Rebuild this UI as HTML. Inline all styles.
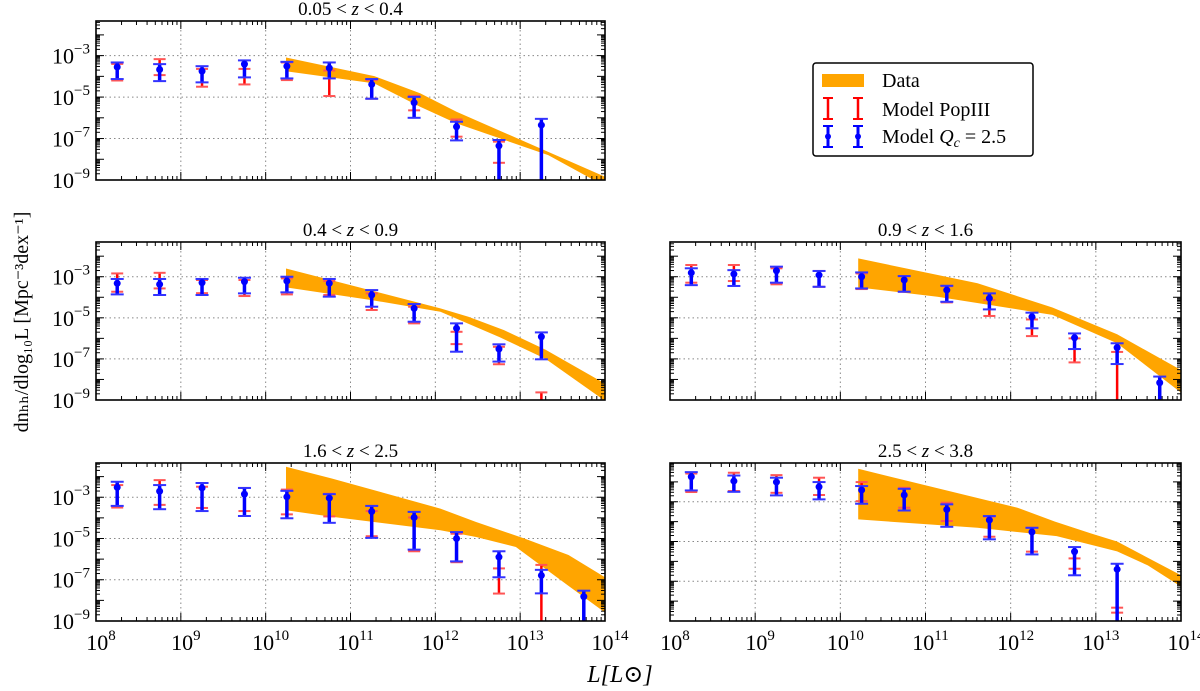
<!DOCTYPE html>
<html><head><meta charset="utf-8"><style>
body{margin:0;background:#fff;}
svg{display:block;font-family:"Liberation Serif","DejaVu Serif",serif;}
</style></head><body>
<svg id="chart" width="1200" height="691" viewBox="0 0 1200 691">
<defs id="defs"></defs>
<g id="root"></g>
</svg>
<script>
// ---- data (log10 values) ----
const binLogL = [8.25, 8.75, 9.25, 9.75, 10.25, 10.75, 11.25, 11.75, 12.25, 12.75, 13.25, 13.75];
const panelTitles = ["0.05 < z < 0.4", "0.4 < z < 0.9", "0.9 < z < 1.6", "1.6 < z < 2.5", "2.5 < z < 3.8"];
const xTickExps = [8, 9, 10, 11, 12, 13, 14];
const yTickExps = [-3, -5, -7, -9];

// panel A: 0.05<z<0.4
const aBandUpperX = [10.24, 11.28, 11.82, 12.25, 14.0];
const aBandUpper = [-3.09, -3.99, -4.82, -5.71, -8.84];
const aBandLowerX = [10.24, 11.28, 11.82, 12.25, 13.33, 14.0];
const aBandLower = [-3.75, -4.34, -5.47, -6.27, -7.8, -9.3];
const aBlueMid = [-3.55, -3.67, -3.75, -3.41, -3.51, -3.6, -4.39, -5.27, -6.43, -7.35, -6.35, null];
const aBlueLo = [-4.13, -4.23, -4.29, -4.05, -4.1, -4.1, -5.08, -6.0, -7.09, -10, -10, null];
const aBlueHi = [-3.33, -3.41, -3.51, -3.23, -3.3, -3.33, -4.13, -4.99, -6.19, -7.07, -6.05, null];
const aRedLo = [-4.2, -3.94, -4.5, -4.39, -4.18, -4.95, -5.08, -5.64, -6.91, -8.17, null, null];
const aRedHi = [-3.4, -3.17, -3.64, -3.64, -3.33, -3.72, -4.18, -4.94, -6.08, -7.15, null, null];

// panel B: 0.4<z<0.9
const bBandUpperX = [10.24, 12.06, 12.39, 12.81, 13.3, 14.0];
const bBandUpper = [-2.6, -4.54, -4.95, -5.6, -6.55, -8.2];
const bBandLowerX = [10.24, 11.25, 12.06, 12.76, 13.3, 13.95, 14.0];
const bBandLower = [-3.52, -4.14, -4.7, -5.95, -7.0, -8.9, -9.1];
const bBlueMid = [-3.32, -3.37, -3.29, -3.24, -3.21, -3.32, -3.89, -4.54, -5.51, -6.52, -5.92, null];
const bBlueLo = [-3.86, -3.89, -3.89, -3.81, -3.76, -3.97, -4.46, -5.19, -6.65, -7.13, -7.02, null];
const bBlueHi = [-3.11, -3.11, -3.11, -3.05, -3.0, -3.11, -3.65, -4.33, -5.27, -6.29, -5.71, null];
const bRedLo = [-3.73, -3.57, -3.8, -3.94, -3.86, -3.89, -4.62, -5.27, -6.28, -7.26, -10, null];
const bRedHi = [-2.84, -2.81, -3.16, -3.16, -3.08, -3.21, -3.81, -4.46, -5.68, -6.41, -8.63, null];

// panel C: 0.9<z<1.6
const cBandUpperX = [10.21, 11.61, 12.49, 13.25, 14.0];
const cBandUpper = [-2.11, -3.32, -4.5, -5.8, -7.54];
const cBandLowerX = [10.21, 11.14, 12.49, 13.25, 14.0];
const cBandLower = [-3.52, -3.97, -4.86, -6.24, -8.64];
const cBlueMid = [-2.81, -2.87, -2.71, -2.92, -3.0, -3.16, -3.65, -4.05, -4.95, -5.97, -6.45, -8.16];
const cBlueLo = [-3.41, -3.45, -3.29, -3.49, -3.57, -3.73, -4.22, -4.59, -5.51, -6.52, -7.25, -10];
const cBlueHi = [-2.59, -2.68, -2.51, -2.72, -2.79, -2.97, -3.44, -3.81, -4.75, -5.76, -6.24, -7.86];
const cRedLo = [-3.29, -3.21, -3.37, -3.49, -3.6, -3.73, -4.25, -4.91, -5.89, -7.17, -10, null];
const cRedHi = [-2.43, -2.43, -2.59, -2.72, -2.84, -2.97, -3.46, -4.14, -5.08, -6.0, -6.66, null];

// panel D: 1.6<z<2.5
const dBandUpperX = [10.24, 10.78, 12.06, 12.48, 13.05, 13.57, 14.0];
const dBandUpper = [-1.52, -2.09, -3.55, -4.2, -5.0, -5.8, -6.88];
const dBandLowerX = [10.24, 10.78, 12.06, 12.48, 12.95, 13.57, 14.0];
const dBandLower = [-3.63, -3.95, -4.6, -4.93, -5.41, -7.3, -8.59];
const dBlueMid = [-2.52, -2.71, -2.55, -2.85, -2.98, -3.04, -3.69, -3.98, -5.0, -5.9, -6.79, -7.82];
const dBlueLo = [-3.42, -3.58, -3.67, -3.91, -4.02, -4.24, -4.97, -5.54, -6.11, -6.88, -7.66, -10];
const dBlueHi = [-2.25, -2.41, -2.31, -2.55, -2.69, -2.85, -3.42, -3.71, -4.69, -5.62, -6.52, -7.53];
const dRedLo = [-3.5, -3.37, -3.52, -3.67, -3.83, -3.93, -4.89, -5.62, -6.15, -7.67, -10, null];
const dRedHi = [-2.41, -2.17, -2.49, -2.55, -2.63, -2.83, -3.67, -3.98, -4.77, -6.45, -6.28, null];

// panel E: 2.5<z<3.8
const eBandUpperX = [10.21, 12.08, 12.52, 12.95, 13.25, 14.0];
const eBandUpper = [-1.34, -3.3, -4.0, -4.6, -5.0, -6.7];
const eBandLowerX = [10.21, 11.61, 12.54, 13.25, 13.61, 14.0];
const eBandLower = [-3.89, -4.31, -4.73, -5.5, -6.2, -7.27];
const eBlueMid = [-1.74, -1.96, -2.01, -2.25, -2.41, -2.66, -3.39, -3.92, -4.52, -5.51, -6.4, null];
const eBlueLo = [-2.43, -2.5, -2.68, -2.88, -3.1, -3.44, -4.26, -4.89, -5.65, -6.7, -10, null];
const eBlueHi = [-1.51, -1.68, -1.79, -2.01, -2.21, -2.35, -3.13, -3.72, -4.31, -5.28, -6.12, null];
const eRedLo = [-2.51, -2.46, -2.55, -2.66, -2.97, -3.3, -3.97, -4.76, -5.51, -6.37, -8.58, null];
const eRedHi = [-1.58, -1.54, -1.66, -1.79, -2.01, -2.3, -3.05, -3.75, -4.31, -5.85, -8.33, null];

const NS = "http://www.w3.org/2000/svg";
const root = document.getElementById("root");
const defs = document.getElementById("defs");
function mk(tag, attrs, parent) {
  const el = document.createElementNS(NS, tag);
  for (const k in attrs) el.setAttribute(k, attrs[k]);
  (parent || root).appendChild(el);
  return el;
}

const panels = [
  {id:"a", x0:96, x1:605, y0:21, y1:180, ymax:-1.33, ylab:true, xlab:false,
   bux:aBandUpperX, bu:aBandUpper, blx:aBandLowerX, bl:aBandLower, bm:aBlueMid, blo:aBlueLo, bhi:aBlueHi, rlo:aRedLo, rhi:aRedHi},
  {id:"b", x0:96, x1:605, y0:242, y1:400, ymax:-1.31, ylab:true, xlab:false,
   bux:bBandUpperX, bu:bBandUpper, blx:bBandLowerX, bl:bBandLower, bm:bBlueMid, blo:bBlueLo, bhi:bBlueHi, rlo:bRedLo, rhi:bRedHi},
  {id:"c", x0:670, x1:1181, y0:242, y1:400, ymax:-1.31, ylab:false, xlab:false,
   bux:cBandUpperX, bu:cBandUpper, blx:cBandLowerX, bl:cBandLower, bm:cBlueMid, blo:cBlueLo, bhi:cBlueHi, rlo:cRedLo, rhi:cRedHi},
  {id:"d", x0:96, x1:605, y0:463, y1:621, ymax:-1.34, ylab:true, xlab:true,
   bux:dBandUpperX, bu:dBandUpper, blx:dBandLowerX, bl:dBandLower, bm:dBlueMid, blo:dBlueLo, bhi:dBlueHi, rlo:dRedLo, rhi:dRedHi},
  {id:"e", x0:670, x1:1181, y0:463, y1:621, ymax:-1.05, ylab:false, xlab:true,
   bux:eBandUpperX, bu:eBandUpper, blx:eBandLowerX, bl:eBandLower, bm:eBlueMid, blo:eBlueLo, bhi:eBlueHi, rlo:eRedLo, rhi:eRedHi}
];
const titleIdx = {a:0, b:1, c:2, d:3, e:4};

panels.forEach(p => {
  const xs = v => p.x0 + (v - 8) / 6 * (p.x1 - p.x0);
  const ys = v => p.y1 - (v - (-9)) / (p.ymax + 9) * (p.y1 - p.y0);
  const g = mk("g", {});
  
  
  const cp = mk("clipPath", {id:"clip-" + p.id}, defs);
  mk("rect", {x:p.x0, y:p.y0, width:p.x1 - p.x0, height:p.y1 - p.y0}, cp);

  const t = panelTitles[titleIdx[p.id]];
  const parts = t.split("z");
  const tt = mk("text", {x:(p.x0 + p.x1) / 2, y:p.y0 - 6, "text-anchor":"middle", "font-size":"19"}, g);
  
  
  tt.appendChild(document.createTextNode(parts[0]));
  const zi = mk("tspan", {"font-style":"italic"}, tt); zi.textContent = "z";
  tt.appendChild(document.createTextNode(parts[1]));

  const grid = mk("g", {stroke:"#888", "stroke-width":"1", "stroke-dasharray":"1.5,3"}, g);
  
  
  xTickExps.forEach(e => { if (e > 8 && e < 14) mk("line", {x1:xs(e), x2:xs(e), y1:p.y0, y2:p.y1}, grid); });
  yTickExps.forEach(e => { if (e > -9) mk("line", {x1:p.x0, x2:p.x1, y1:ys(e), y2:ys(e)}, grid); });

  const plot = mk("g", {"clip-path":"url(#clip-" + p.id + ")"}, g);
  let d = "";
  p.bux.forEach((v, i) => { d += (i ? "L" : "M") + xs(v).toFixed(1) + "," + ys(p.bu[i]).toFixed(1); });
  for (let i = p.blx.length - 1; i >= 0; i--) d += "L" + xs(p.blx[i]).toFixed(1) + "," + ys(p.bl[i]).toFixed(1);
  const band = mk("path", {d: d + "Z", fill:"#ffa500", stroke:"none"}, plot);
  
  

  binLogL.forEach((L, i) => {
    if (p.rlo[i] == null || p.rhi[i] == null) return;
    const x = xs(L), ylo = ys(p.rlo[i]), yhi = ys(p.rhi[i]);
    const eg = mk("g", {stroke:"#ff0000", "stroke-width":"2.5"}, plot);
    
    
    mk("line", {x1:x, x2:x, y1:ylo, y2:yhi}, eg);
    mk("line", {x1:x - 6, x2:x + 6, y1:ylo, y2:ylo, "stroke-width":"2", stroke:"#ff5555"}, eg);
    mk("line", {x1:x - 6, x2:x + 6, y1:yhi, y2:yhi, "stroke-width":"2", stroke:"#ff5555"}, eg);
  });
  binLogL.forEach((L, i) => {
    if (p.bm[i] == null) return;
    const x = xs(L), ylo = ys(p.blo[i]), yhi = ys(p.bhi[i]), ym = ys(p.bm[i]);
    const eg = mk("g", {stroke:"#0000ff", "stroke-width":"3.5"}, plot);
    
    
    mk("line", {x1:x, x2:x, y1:ylo, y2:yhi}, eg);
    mk("line", {x1:x - 6.5, x2:x + 6.5, y1:ylo, y2:ylo, "stroke-width":"2", stroke:"#3333ff"}, eg);
    mk("line", {x1:x - 6.5, x2:x + 6.5, y1:yhi, y2:yhi, "stroke-width":"2", stroke:"#3333ff"}, eg);
    mk("circle", {cx:x, cy:ym, r:3.5, fill:"#0000ff", stroke:"none"}, eg);
  });

  const tk = mk("g", {stroke:"#000", "stroke-width":"1"}, g);
  for (let e = 8; e <= 14; e++) {
    [p.y1, p.y0].forEach((yb, s) => { const dir = s ? 1 : -1;
      mk("line", {x1:xs(e), x2:xs(e), y1:yb, y2:yb + dir * 8}, tk);
      if (e < 14) for (let m = 2; m <= 9; m++) { const xv = xs(e + Math.log10(m));
        mk("line", {x1:xv, x2:xv, y1:yb, y2:yb + dir * 4}, tk); }
    });
  }
  for (let e = -9; e <= -1; e++) {
    [p.x0, p.x1].forEach((xb, s) => { const dir = s ? -1 : 1;
      if (e <= p.ymax) mk("line", {x1:xb, x2:xb + dir * 8, y1:ys(e), y2:ys(e)}, tk);
      for (let m = 2; m <= 9; m++) { const lv = e + Math.log10(m); if (lv > p.ymax) break;
        mk("line", {x1:xb, x2:xb + dir * 4, y1:ys(lv), y2:ys(lv)}, tk); }
    });
  }
  const frame = mk("rect", {x:p.x0, y:p.y0, width:p.x1 - p.x0, height:p.y1 - p.y0, fill:"none", stroke:"#000", "stroke-width":"1.6"}, g);
  
  

  if (p.ylab) yTickExps.forEach(e => {
    const tx = mk("text", {x:p.x0 - 6, y:ys(e) + 8, "text-anchor":"end", "font-size":"22"}, g);
    
    
    tx.appendChild(document.createTextNode("10"));
    const s = mk("tspan", {dy:"-10", "font-size":"15"}, tx); s.textContent = "\u2212" + (-e);
  });
  if (p.xlab) xTickExps.forEach(e => {
    const tx = mk("text", {x:xs(e) + 5, y:p.y1 + 29, "text-anchor":"middle", "font-size":"22"}, g);
    
    
    tx.appendChild(document.createTextNode("10"));
    const s = mk("tspan", {dy:"-10", "font-size":"15"}, tx); s.textContent = String(e);
  });
});

const xt = mk("text", {x:620, y:682, "text-anchor":"middle", "font-size":"24", "font-style":"italic"});


xt.textContent = "L[L\u2299]";
const yt = mk("text", {x:0, y:0, "text-anchor":"middle", "font-size":"20", transform:"translate(28,322) rotate(-90)"});


yt.textContent = "dn\u2095\u2095/dlog\u2081\u2080L [Mpc\u207B\u00B3dex\u207B\u00B9]";

const lg = mk("g", {});


mk("rect", {x:813, y:63, width:220, height:93, rx:3, fill:"#fff", stroke:"#000", "stroke-width":"1.5"}, lg);
const lp = mk("rect", {x:822, y:74, width:42, height:13, fill:"#ffa500"}, lg);


[[828, "#ff0000", 98, 119, false], [858, "#ff0000", 98, 119, false], [828, "#0000ff", 126, 147, true], [858, "#0000ff", 126, 147, true]].forEach(s => {
  const eg = mk("g", {stroke:s[1], "stroke-width":s[4] ? 3 : 2.5}, lg);
  
  
  mk("line", {x1:s[0], x2:s[0], y1:s[2], y2:s[3]}, eg);
  mk("line", {x1:s[0] - 5, x2:s[0] + 5, y1:s[2], y2:s[2], "stroke-width":2}, eg);
  mk("line", {x1:s[0] - 5, x2:s[0] + 5, y1:s[3], y2:s[3], "stroke-width":2}, eg);
  if (s[4]) mk("circle", {cx:s[0], cy:(s[2] + s[3]) / 2, r:3, fill:s[1], stroke:"none"}, eg);
});
[["Data", 87], ["Model PopIII", 116], ["Model ", 143]].forEach((l, i) => {
  const tx = mk("text", {x:882, y:l[1], "font-size":"20"}, lg);
  
  
  tx.textContent = l[0];
  if (i === 2) {
    const q = mk("tspan", {"font-style":"italic"}, tx); q.textContent = "Q";
    const c = mk("tspan", {"font-style":"italic", "font-size":"14", dy:"4"}, tx); c.textContent = "c";
    const r = mk("tspan", {dy:"-4"}, tx); r.textContent = " = 2.5";
  }
});
</script>
</body></html>
